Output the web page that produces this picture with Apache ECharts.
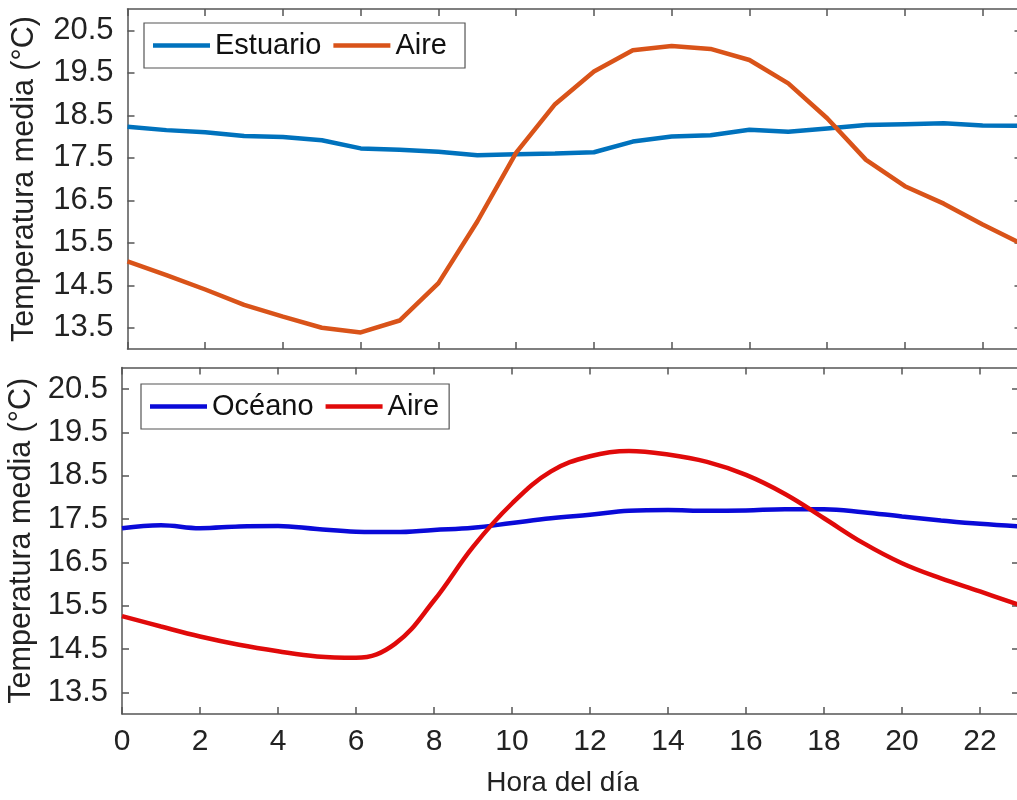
<!DOCTYPE html>
<html>
<head>
<meta charset="utf-8">
<script src="https://cdn.jsdelivr.net/npm/echarts@6/dist/echarts.min.js"></script>
<style>
html,body{margin:0;padding:0;background:#fff;}
#chart{width:1017px;height:800px;}
</style>
</head>
<body>
<div id="chart"></div>
<script>
const hours = [0,1,2,3,4,5,6,7,8,9,10,11,12,13,14,15,16,17,18,19,20,21,22,23];
const estuario = [18.23,18.15,18.1,18.01,17.99,17.91,17.72,17.69,17.64,17.56,17.58,17.6,17.63,17.88,18.0,18.03,18.16,18.11,18.19,18.27,18.29,18.31,18.26,18.25];
const aireTop = [15.06,14.74,14.4,14.04,13.76,13.5,13.39,13.67,14.55,16.0,17.62,18.76,19.53,20.03,20.13,20.06,19.8,19.25,18.43,17.45,16.83,16.42,15.93,15.48];
const oceano = [17.29,17.36,17.29,17.33,17.34,17.27,17.21,17.2,17.25,17.3,17.41,17.52,17.6,17.69,17.71,17.69,17.7,17.73,17.73,17.66,17.56,17.47,17.39,17.33];
const aireBottom = [15.26,15.02,14.79,14.6,14.45,14.33,14.3,14.62,15.62,16.86,17.86,18.6,18.95,19.07,18.99,18.82,18.52,18.08,17.52,16.95,16.48,16.13,15.83,15.52];
const xTicks = [0,2,4,6,8,10,12,14,16,18,20,22];
const yTicks = [13.5,14.5,15.5,16.5,17.5,18.5,19.5,20.5];
const yMin = 13, yMax = 21, xMin = 0, xMax = 23;

const axisColor = '#555';
const font = 'Liberation Sans, Arial, sans-serif';
const pairs = (ys) => hours.map((h, i) => [h, ys[i]]);

function xAx(gridIndex, pos, showLabels, withName) {
  return {
    type: 'value', gridIndex, position: pos, min: xMin, max: xMax,
    axisLine: {show: true, onZero: false, lineStyle: {color: axisColor, width: 1.5}},
    axisTick: {show: true, inside: true, length: 7, customValues: xTicks, lineStyle: {color: axisColor, width: 1.5}},
    axisLabel: {show: showLabels, customValues: xTicks, fontSize: 30, fontFamily: font, color: '#222', margin: 13},
    splitLine: {show: false},
    name: withName ? 'Hora del día' : '', nameLocation: 'middle', nameGap: 55,
    nameTextStyle: {fontSize: 28, fontFamily: font, color: '#222', padding: [0, 16, 0, 0]}
  };
}
function yAx(gridIndex, pos, showLabels, gap) {
  return {
    type: 'value', gridIndex, position: pos, min: yMin, max: yMax,
    axisLine: {show: true, onZero: false, lineStyle: {color: axisColor, width: 1.5}},
    axisTick: {show: true, inside: true, length: 7, customValues: yTicks, lineStyle: {color: axisColor, width: 1.5}},
    axisLabel: {show: showLabels, customValues: yTicks, fontSize: 31, fontFamily: font, color: '#222', margin: 14,
      formatter: v => v.toFixed(1)},
    splitLine: {show: false},
    name: showLabels ? 'Temperatura media (°C)' : '', nameLocation: 'middle', nameGap: gap || 0,
    nameTextStyle: {fontSize: 30.5, fontFamily: font, color: '#222'}
  };
}

const legendCommon = {
  orient: 'horizontal', backgroundColor: '#fff', borderColor: '#555', borderWidth: 1.2,
  padding: [8, 10, 8, 9], itemWidth: 57, itemHeight: 4.5, itemGap: 12, icon: 'rect',
  textStyle: {fontSize: 29, fontFamily: font, color: '#111'}
};

const chart = echarts.init(document.getElementById('chart'), null, {renderer: 'canvas'});
chart.setOption({
  animation: false,
  backgroundColor: '#fff',
  grid: [
    {left: 127.5, top: 9, width: 894, height: 340, containLabel: false, outerBoundsMode: 'none'},
    {left: 122, top: 367.5, width: 897, height: 346.5, containLabel: false, outerBoundsMode: 'none'}
  ],
  xAxis: [xAx(0, 'bottom', false, false), xAx(0, 'top', false, false), xAx(1, 'bottom', true, true), xAx(1, 'top', false, false)],
  yAxis: [yAx(0, 'left', true, 87), yAx(0, 'right', false), yAx(1, 'left', true, 81.5), yAx(1, 'right', false)],
  legend: [
    Object.assign({}, legendCommon, {left: 144, top: 23, data: ['Estuario', 'Aire ']}),
    Object.assign({}, legendCommon, {left: 141, top: 384, data: ['Océano', 'Aire']})
  ],
  series: [
    {name: 'Estuario', type: 'line', xAxisIndex: 0, yAxisIndex: 0, data: pairs(estuario), showSymbol: false, color: '#0072BD', lineStyle: {width: 4.5}},
    {name: 'Aire ', type: 'line', xAxisIndex: 0, yAxisIndex: 0, data: pairs(aireTop), showSymbol: false, color: '#D95319', lineStyle: {width: 4.5}},
    {name: 'Océano', type: 'line', xAxisIndex: 2, yAxisIndex: 2, data: pairs(oceano), showSymbol: false, smooth: 0.4, color: '#0A0AD8', lineStyle: {width: 4.5}},
    {name: 'Aire', type: 'line', xAxisIndex: 2, yAxisIndex: 2, data: pairs(aireBottom), showSymbol: false, smooth: 0.4, color: '#E00A0A', lineStyle: {width: 4.5}}
  ]
});
</script>
</body>
</html>
